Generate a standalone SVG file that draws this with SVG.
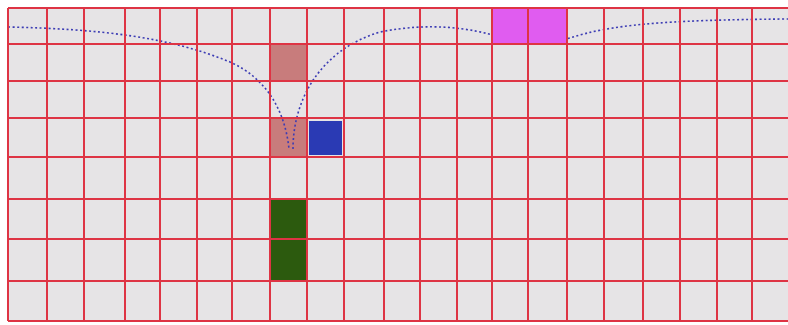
<svg xmlns="http://www.w3.org/2000/svg" width="788" height="325" viewBox="0 0 788 325">
<style>
.grid line{stroke:#de3444;stroke-width:2}
.rose{fill:#c87c7c}
.blue{fill:#2a3ab4}
.green{fill:#2c5a0e}
.mag{fill:#e05cf0}
.path{fill:none;stroke:#3c3cb4;stroke-width:1.6;stroke-dasharray:2 2.5}
</style>
<rect width="788" height="325" fill="#ffffff"/>
<rect x="8" y="8" width="780" height="313" fill="#e6e4e6"/>
<g id="cell-r1c7"><rect class="rose" x="270" y="44" width="37" height="37"/></g>
<g id="cell-r3c7"><rect class="rose" x="270" y="118" width="37" height="39"/></g>
<g id="cell-r3c8"><rect class="blue" x="309" y="121" width="33" height="34"/></g>
<g id="cell-r5c7"><rect class="green" x="270" y="199" width="37" height="40"/></g>
<g id="cell-r6c7"><rect class="green" x="270" y="239" width="37" height="42"/></g>
<g id="connectors">
<path class="path" d="M8,27 C100,29 170,37 230,62 C266,78 285,110 289,149"/>
<path class="path" d="M293,149 C293,100 320,50 380,32 C430,22 470,28 500,37 C520,43 550,43 570,38 C610,25 660,20 788,19"/>
</g>
<g id="cell-r0c13"><rect class="mag" x="492" y="8" width="36" height="36"/></g>
<g id="cell-r0c14"><rect class="mag" x="528" y="8" width="39" height="36"/></g>
<g class="grid" id="grid">
<line x1="8" y1="8" x2="788" y2="8"/>
<line x1="8" y1="44" x2="788" y2="44"/>
<line x1="8" y1="81" x2="788" y2="81"/>
<line x1="8" y1="118" x2="788" y2="118"/>
<line x1="8" y1="157" x2="788" y2="157"/>
<line x1="8" y1="199" x2="788" y2="199"/>
<line x1="8" y1="239" x2="788" y2="239"/>
<line x1="8" y1="281" x2="788" y2="281"/>
<line x1="8" y1="321" x2="788" y2="321"/>
<line x1="8" y1="8" x2="8" y2="321"/>
<line x1="47" y1="8" x2="47" y2="321"/>
<line x1="84" y1="8" x2="84" y2="321"/>
<line x1="125" y1="8" x2="125" y2="321"/>
<line x1="160" y1="8" x2="160" y2="321"/>
<line x1="197" y1="8" x2="197" y2="321"/>
<line x1="232" y1="8" x2="232" y2="321"/>
<line x1="270" y1="8" x2="270" y2="321"/>
<line x1="307" y1="8" x2="307" y2="321"/>
<line x1="344" y1="8" x2="344" y2="321"/>
<line x1="384" y1="8" x2="384" y2="321"/>
<line x1="420" y1="8" x2="420" y2="321"/>
<line x1="457" y1="8" x2="457" y2="321"/>
<line x1="492" y1="8" x2="492" y2="321"/>
<line x1="528" y1="8" x2="528" y2="321"/>
<line x1="567" y1="8" x2="567" y2="321"/>
<line x1="604" y1="8" x2="604" y2="321"/>
<line x1="643" y1="8" x2="643" y2="321"/>
<line x1="680" y1="8" x2="680" y2="321"/>
<line x1="717" y1="8" x2="717" y2="321"/>
<line x1="752" y1="8" x2="752" y2="321"/>
</g>
</svg>
